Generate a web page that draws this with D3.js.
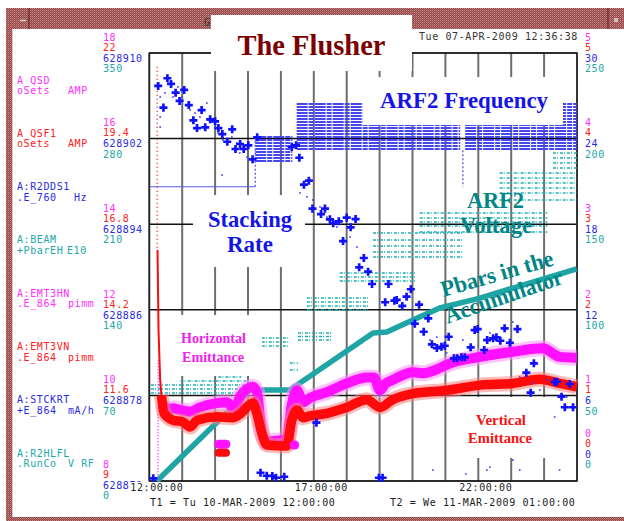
<!DOCTYPE html>
<html>
<head>
<meta charset="utf-8">
<script src="https://cdn.jsdelivr.net/npm/d3@7"></script>
<style>
  body { margin: 0; background: #fff; }
  text.mono { font-family: "DejaVu Sans Mono", monospace; font-size: 10px; letter-spacing: 0.6px; }
  text.big { font-family: "Liberation Serif", "Times New Roman", serif; font-weight: bold; }
</style>
</head>
<body>
<svg id="chart" width="624" height="521"></svg>
<script>
// time span of the plot: T1 .. T2 (13 hours), data times are hours after T1
var T1 = Date.UTC(2009, 2, 10, 12, 0, 0),
    T2 = Date.UTC(2009, 2, 11, 1, 0, 0);
function t(h) { return new Date(T1 + h * 3600e3) }

// axis labels, top to bottom
var qsdTicks   = ["18", "16", "14", "12", "10", "8"];
var qsf1Ticks  = ["22", "19.4", "16.8", "14.2", "11.6", "9"];
var freqTicks  = ["628910", "628902", "628894", "628886", "628878", "628870"];
var beamTicks  = ["350", "280", "210", "140", "70", "0"];
var emitHTicks = ["5", "4", "3", "2", "1", "0"];
var emitVTicks = ["5", "4", "3", "2", "1", "0"];
var stackTicks = ["30", "24", "18", "12", "6", "0"];
var voltTicks  = ["250", "200", "150", "100", "50", "0"];
var timeLabelHours = [0, 5, 10];

var channelNames = ["A_QSD", "A_QSF1", "A:R2DDS1", "A:BEAM", "A:EMT3HN", "A:EMT3VN", "A:STCKRT", "A:R2HLFL"];
var channelSubs  = ["oSets", "oSets", ".E_760", "+PbarEH", ".E_864", ".E_864", "+E_864", ".RunCo"];
var channelUnits = ["AMP", "AMP", "Hz", "E10", "pimm", "pimm", "mA/h", "V RF"];

// stacking rate (mA/h): [hour, value]
var stackPlus = [[0.27,27.69],[0.55,28.23],[0.66,27.83],[0.43,26.17],[0.80,27.22],[1.06,27.41],[0.92,26.64],[1.20,26.35],
  [1.59,26.00],[1.34,25.28],[1.45,24.74],[1.70,24.79],[1.85,25.35],[2.00,25.21],[2.10,24.74],[2.22,24.32],[2.52,24.65],
  [2.37,23.78],[2.62,23.27],[2.76,23.62],[2.87,23.27],[3.01,23.53],[3.14,22.55],[3.28,24.09],[4.33,23.41],[4.46,23.53],
  [4.56,22.66],[4.70,20.77],[4.85,21.05],[4.96,19.09],[5.22,18.71],[5.34,19.09],[5.49,18.34],[5.59,18.06],[5.76,18.20],
  [6.00,18.46],[6.27,18.36],[6.12,17.78],[5.89,16.82],[6.52,15.63],[6.38,14.98],[6.65,14.67],[6.77,13.81],[7.27,13.81],
  [7.17,12.53],[7.45,12.64],[7.52,12.69],[7.69,12.27],[7.82,12.92],[7.95,13.44],[8.20,12.36],[8.07,11.03],[8.34,10.46],
  [8.48,11.40],[8.59,9.58],[8.74,9.32],[8.88,9.41],[8.98,9.48],[9.10,10.11],[9.26,8.60],[9.36,8.60],[9.49,8.67],
  [9.59,8.67],[9.77,9.37],[9.89,10.58],[9.98,10.65],[10.18,9.18],[10.27,9.88],[10.45,10.00],[10.55,10.07],[10.67,9.83],
  [10.80,10.70],[10.96,9.69],[11.19,10.65],[11.46,7.59],[11.69,8.25],[11.59,6.19],[12.32,6.94],[12.39,6.96],[12.53,5.91],
  [12.78,6.80],[12.63,5.17],[12.88,5.17],[5.08,4.09],[3.38,0.58],[3.57,0.37],[3.74,0.35],[3.85,0.23],[4.10,0.30],
  [0.12,0.19],[6.98,0.23],[7.09,0.23]];
var stackDots = [[0.33,26.92],[0.48,27.20],[0.72,26.92],[0.87,27.62],[0.99,26.92],[1.24,26.00],[1.39,25.79],[1.54,25.51],
  [1.75,26.49],[1.78,25.30],[2.09,24.39],[2.24,23.90],[2.51,24.11],[2.66,23.69],[2.75,22.99],[2.97,22.71],[2.21,21.45],
  [0.33,24.81],[0.33,25.51],[4.58,20.19],[4.79,19.91],[4.97,19.70],[5.19,19.21],[5.40,18.50],[5.70,17.80],[6.10,17.10],
  [6.31,16.40],[7.62,12.20],[8.01,11.99],[8.53,9.88],[8.74,10.09],[9.04,8.97],[9.53,9.88],[9.74,9.18],[10.35,10.37],
  [10.65,9.67],[11.05,11.14],[11.26,7.29],[11.65,6.87],[11.87,6.38],[12.08,7.08],[12.17,5.47],[12.32,4.49],[12.69,5.89],
  [8.62,0.77],[10.26,0.77],[11.05,1.47],[12.47,0.77],[9.62,0.49],[10.35,0.98],[11.26,0.77]];

// ARF2 frequency (Hz)
var freqBase = [[0, 628897.5], [3.22, 628897.5]];
var freqJumps = [[3.22, 628897.5, 628902.15], [9.53, 628900.9, 628897.5]];
var freqBands = [
  {from: 3.22, to: 4.35, levels: [628902.15, 628901.87, 628901.59, 628901.31, 628901.03, 628900.75, 628900.47, 628900.19, 628899.91]},
  {from: 4.48, to: 9.45, levels: [628905.23, 628904.95, 628904.67, 628904.39, 628904.11, 628903.83, 628903.55, 628903.27,
                                  628902.99, 628902.71, 628902.43, 628902.15, 628901.87, 628901.59, 628901.31, 628901.03]},
  {from: 9.6, to: 13, levels: [628905.23, 628904.95, 628904.67, 628904.39, 628904.11, 628903.83, 628903.55, 628903.27,
                               628902.99, 628902.71, 628902.43, 628902.15, 628901.87, 628901.59, 628901.31, 628901.03]}
];

// ARF2 voltage (right teal scale)
var voltBands = [
  {from: 0.05, to: 3.05, levels: [51.4, 53.7, 56.1]},
  {from: 0.95, to: 3.1, levels: [58.4]},
  {from: 2.1, to: 2.8, levels: [60.7]},
  {from: 3.42, to: 4.27, levels: [83.5, 81.2, 78.9]},
  {from: 4.27, to: 4.52, levels: [64.8, 68.9]},
  {from: 4.52, to: 5.58, levels: [86.4, 84.4, 82.4]},
  {from: 4.79, to: 6.70, levels: [106.9, 104.6, 102.2, 99.9]},
  {from: 5.79, to: 8.13, levels: [121.5, 119.2, 116.8]},
  {from: 6.80, to: 9.53, levels: [144.9, 140.8, 137.3, 133.8, 130.8]},
  {from: 8.22, to: 12.1, levels: [156.5, 153.6, 151.3, 148.9, 145.4]},
  {from: 10.65, to: 13, levels: [179.9, 177.0, 174.1, 171.1, 168.2, 164.1]},
  {from: 12.27, to: 13, levels: [191.6, 188.7, 185.7, 182.8]}
];

// pbars in the accumulator (E10)
var pbars = [[0.23,0],[3.06,74.4],[4.27,74.4],[6.80,121.0],[7.22,121.8],[8.01,131.7],[8.83,141.5],
  [10.05,149.6],[11.05,157.8],[12.08,166.0],[12.99,173.4]];

// emittances (pi mm mrad)
var hEmit = [[0.42,0.90],[0.54,0.83],[0.72,0.85],[0.93,0.83],[1.24,0.81],[1.54,0.86],[2.05,0.91],[2.36,0.92],[2.60,0.83],
  [2.75,0.98],[3.15,1.10],[3.27,1.04],[3.42,0.57],[3.57,0.46],[3.88,0.47],[4.18,0.49],[4.33,0.89],[4.49,1.06],[4.67,0.92],
  [4.88,0.97],[5.40,1.04],[6.00,1.14],[6.61,1.21],[6.83,1.21],[7.01,1.06],[7.19,1.14],[7.40,1.18],[8.01,1.27],[8.31,1.26],
  [8.83,1.32],[9.05,1.36],[10.05,1.45],[11.05,1.51],[11.96,1.55],[12.48,1.45],[12.99,1.44]];
var vEmit = [[0.37,1.00],[0.45,0.79],[0.72,0.71],[1.02,0.69],[1.24,0.63],[1.45,0.71],[2.06,0.75],[2.54,0.74],[2.75,0.78],
  [3.15,0.91],[3.27,0.79],[3.42,0.56],[3.57,0.42],[4.18,0.41],[4.33,0.71],[4.49,0.83],[4.67,0.74],[4.88,0.76],[5.40,0.79],
  [6.00,0.86],[6.61,0.95],[7.01,0.86],[7.40,0.95],[8.01,1.02],[9.04,1.06],[9.53,1.09],[10.05,1.12],[11.05,1.14],
  [11.87,1.19],[12.48,1.14],[12.99,1.10]];
var vEmitSpike = [[0.25,2.70],[0.28,1.76],[0.33,1.18],[0.37,1.00]];
var vEmitSpikeTop = [[0.24,4.84],[0.24,2.70]];
var hEmitSpike = [[0.27,1.41],[0.26,0]];
var hEmitBlobs = [[2.11,2.33,0.43],[4.40,4.42,0.42]];
var vEmitBlobs = [[2.11,2.33,0.33]];

var plot = {left: 149.3, right: 577, top: 53, bottom: 481};
var pink = "#ff30ff", red = "#ff2020", blue = "#2a2ae6", teal = "#22a8a8";

var svg = d3.select("#chart");

var x = d3.scaleUtc().domain([new Date(T1), new Date(T2)]).range([plot.left, plot.right]);
function yScale(lo, hi) { return d3.scaleLinear().domain([lo, hi]).range([plot.bottom, plot.top]) }
var yQSD = yScale(8, 18), yQSF1 = yScale(9, 22), yFreq = yScale(628870, 628910), yBeam = yScale(0, 350);
var yEmit = yScale(0, 5), yStack = yScale(0, 30), yVolt = yScale(0, 250);

function lineOf(ys) { return d3.line().x(function(d){ return x(t(d[0])) }).y(function(d){ return ys(d[1]) }) }

// window frame
var defs = svg.append("defs");
var pat = defs.append("pattern").attr("id", "maroon").attr("width", 2).attr("height", 2).attr("patternUnits", "userSpaceOnUse");
pat.append("rect").attr("width", 2).attr("height", 2).attr("fill", "#974646");
pat.append("rect").attr("width", 1).attr("height", 1).attr("fill", "#c58a8a");
pat.append("rect").attr("x", 1).attr("y", 1).attr("width", 1).attr("height", 1).attr("fill", "#b06c6c");

svg.append("rect").attr("x", 6).attr("y", 8).attr("width", 618).attr("height", 21).attr("fill", "url(#maroon)");
svg.append("rect").attr("x", 6).attr("y", 8).attr("width", 6).attr("height", 513).attr("fill", "url(#maroon)");
svg.append("rect").attr("x", 6).attr("y", 517).attr("width", 618).attr("height", 4).attr("fill", "url(#maroon)");
svg.append("line").attr("x1", 29).attr("x2", 29).attr("y1", 8).attr("y2", 29).attr("stroke", "#5a2020");
svg.append("line").attr("x1", 20).attr("x2", 26).attr("y1", 20.5).attr("y2", 20.5).attr("stroke", "#e8d0d0").attr("stroke-width", 1.5);
svg.append("line").attr("x1", 608).attr("x2", 608).attr("y1", 8).attr("y2", 29).attr("stroke", "#5a2020");
svg.append("rect").attr("x", 614).attr("y", 18).attr("width", 4).attr("height", 4).attr("fill", "#d8b8b8");
svg.append("text").attr("class", "mono").attr("x", 204).attr("y", 26).attr("fill", "#333").text("G");
svg.append("line").attr("x1", 12.5).attr("x2", 12.5).attr("y1", 29).attr("y2", 517).attr("stroke", "#ccc");

// grid
var hourTicks = x.ticks(d3.utcHour.every(1));
svg.append("g").selectAll("line").data(hourTicks).enter().append("line")
  .attr("x1", function(d){ return x(d) }).attr("x2", function(d){ return x(d) })
  .attr("y1", plot.top).attr("y2", plot.bottom)
  .attr("stroke", "#6e6e6e").attr("stroke-width", 2);
svg.append("g").selectAll("line").data(yEmit.ticks(5)).enter().append("line")
  .attr("x1", plot.left).attr("x2", plot.right)
  .attr("y1", function(d){ return yEmit(d) }).attr("y2", function(d){ return yEmit(d) })
  .attr("stroke", "#111").attr("stroke-width", 1.5);
svg.append("rect").attr("x", plot.left).attr("y", plot.top)
  .attr("width", plot.right - plot.left).attr("height", plot.bottom - plot.top)
  .attr("fill", "none").attr("stroke", "#222").attr("stroke-width", 1.5);

// ARF2 frequency
freqBands.forEach(function(b){
  svg.append("g").selectAll("line").data(b.levels).enter().append("line")
    .attr("x1", x(t(b.from))).attr("x2", x(t(b.to)))
    .attr("y1", function(d){ return yFreq(d) }).attr("y2", function(d){ return yFreq(d) })
    .attr("stroke", "#4646ee").attr("stroke-width", 2).attr("stroke-dasharray", "11,1,5,1");
});
svg.append("path").datum(freqBase).attr("d", lineOf(yFreq))
  .attr("fill", "none").attr("stroke", "#5858f0").attr("stroke-width", 1.2);
svg.append("g").selectAll("line").data(freqJumps).enter().append("line")
  .attr("x1", function(d){ return x(t(d[0])) }).attr("x2", function(d){ return x(t(d[0])) })
  .attr("y1", function(d){ return yFreq(d[1]) }).attr("y2", function(d){ return yFreq(d[2]) })
  .attr("stroke", "#5858f0").attr("stroke-width", 1.3).attr("stroke-dasharray", "2,2");

// ARF2 voltage
voltBands.forEach(function(b){
  svg.append("g").selectAll("line").data(b.levels).enter().append("line")
    .attr("x1", x(t(b.from))).attr("x2", x(t(b.to)))
    .attr("y1", function(d){ return yVolt(d) }).attr("y2", function(d){ return yVolt(d) })
    .attr("stroke", "#1eb0b0").attr("stroke-width", 1.5).attr("stroke-dasharray", "3,1,1,2");
});

// pbars
svg.append("path").datum(pbars).attr("d", lineOf(yBeam))
  .attr("fill", "none").attr("stroke", "#1fa5a5").attr("stroke-width", 5.5).attr("stroke-linejoin", "round");

// emittances
var emitLine = lineOf(yEmit).curve(d3.curveMonotoneX);
svg.append("path").datum(hEmitSpike).attr("d", lineOf(yEmit))
  .attr("fill", "none").attr("stroke", pink).attr("stroke-width", 1.5).attr("stroke-dasharray", "1,2");
svg.append("path").datum(hEmit).attr("d", emitLine)
  .attr("fill", "none").attr("stroke", "#ff90ff").attr("stroke-width", 16).attr("stroke-linejoin", "round").attr("opacity", 0.55);
svg.append("path").datum(hEmit).attr("d", emitLine)
  .attr("fill", "none").attr("stroke", "#ff10ff").attr("stroke-width", 10).attr("stroke-linejoin", "round");
svg.append("path").datum(vEmit).attr("d", emitLine)
  .attr("fill", "none").attr("stroke", "#ff8080").attr("stroke-width", 15).attr("stroke-linejoin", "round").attr("opacity", 0.55);
svg.append("path").datum(vEmit).attr("d", emitLine)
  .attr("fill", "none").attr("stroke", "#ff0a0a").attr("stroke-width", 9.5).attr("stroke-linejoin", "round");
svg.append("path").datum(vEmitSpike).attr("d", lineOf(yEmit))
  .attr("fill", "none").attr("stroke", "#ff0a0a").attr("stroke-width", 2);
svg.append("path").datum(vEmitSpikeTop).attr("d", lineOf(yEmit))
  .attr("fill", "none").attr("stroke", red).attr("stroke-width", 1.5).attr("stroke-dasharray", "1,3");
svg.append("g").selectAll("line").data(hEmitBlobs).enter().append("line")
  .attr("x1", function(d){ return x(t(d[0])) }).attr("x2", function(d){ return x(t(d[1])) })
  .attr("y1", function(d){ return yEmit(d[2]) }).attr("y2", function(d){ return yEmit(d[2]) })
  .attr("stroke", "#ff10ff").attr("stroke-width", 9).attr("stroke-linecap", "round");
svg.append("g").selectAll("line").data(vEmitBlobs).enter().append("line")
  .attr("x1", function(d){ return x(t(d[0])) }).attr("x2", function(d){ return x(t(d[1])) })
  .attr("y1", function(d){ return yEmit(d[2]) }).attr("y2", function(d){ return yEmit(d[2]) })
  .attr("stroke", "#ff0a0a").attr("stroke-width", 8).attr("stroke-linecap", "round");

// stacking rate
svg.append("g").selectAll("rect").data(stackDots).enter().append("rect")
  .attr("x", function(d){ return x(t(d[0])) - 0.8 }).attr("y", function(d){ return yStack(d[1]) - 0.8 })
  .attr("width", 1.6).attr("height", 1.6).attr("fill", "#3a3aff");
svg.append("g").selectAll("path").data(stackPlus).enter().append("path")
  .attr("d", d3.symbol(d3.symbolCross, 36))
  .attr("transform", function(d){ return "translate(" + x(t(d[0])) + "," + yStack(d[1]) + ")" })
  .attr("fill", "#1010ff");

// left and right scale labels
var leftSets = [[qsdTicks, yQSD, pink, -15.7], [qsf1Ticks, yQSF1, red, -5.8], [freqTicks, yFreq, blue, 5.2], [beamTicks, yBeam, teal, 15.6]];
var rightSets = [[emitHTicks, yEmit, pink, -15.7], [emitVTicks, yEmit, red, -5.8], [stackTicks, yStack, blue, 5.2], [voltTicks, yVolt, teal, 15.6]];
leftSets.forEach(function(s){
  svg.append("g").selectAll("text").data(s[0]).enter().append("text")
    .attr("class", "mono").attr("x", 103)
    .attr("y", function(d){ return s[1](+d) + s[3] + (+d === s[1].domain()[0] ? -1 : 0) })
    .attr("dy", "0.35em").attr("fill", s[2]).text(function(d){ return d });
});
rightSets.forEach(function(s){
  svg.append("g").selectAll("text").data(s[0]).enter().append("text")
    .attr("class", "mono").attr("x", 585)
    .attr("y", function(d){ return s[1](+d) + s[3] + (+d === 0 ? -32 : 0) })
    .attr("dy", "0.35em").attr("fill", s[2]).text(function(d){ return d });
});

// channel names
var chColors = [pink, red, blue, teal, pink, red, blue, teal];
var unitX = [68, 68, 74, 67, 68, 68, 68, 68];
var ch = svg.append("g").selectAll("g").data(channelNames).enter().append("g");
ch.append("text").attr("class", "mono").attr("x", 17).attr("y", function(d, i){ return 80 + i * 53.3 })
  .attr("dy", "0.35em").attr("fill", function(d, i){ return chColors[i] }).text(function(d){ return d });
ch.append("text").attr("class", "mono").attr("x", 17).attr("y", function(d, i){ return 90.5 + i * 53.3 })
  .attr("dy", "0.35em").attr("fill", function(d, i){ return chColors[i] }).text(function(d, i){ return channelSubs[i] });
ch.append("text").attr("class", "mono").attr("x", function(d, i){ return unitX[i] }).attr("y", function(d, i){ return 90.5 + i * 53.3 })
  .attr("dy", "0.35em").attr("fill", function(d, i){ return chColors[i] }).text(function(d, i){ return channelUnits[i] });

// time axis (its white label background hides the end of the lowest left label, as on the screen)
var timeAxis = d3.axisBottom(x).tickValues(timeLabelHours.map(t)).tickFormat(d3.utcFormat("%H:%M:%S")).tickSize(0);
var ga = svg.append("g").attr("transform", "translate(0," + plot.bottom + ")").style("color", "#222").call(timeAxis);
ga.select(".domain").remove();
ga.selectAll(".tick").insert("rect", "text").attr("x", -19).attr("y", 1).attr("width", 53).attr("height", 11).attr("fill", "#fff");
ga.selectAll("text").attr("class", "mono").attr("dx", 7).attr("y", 6).attr("dy", "0.35em");

svg.append("text").attr("class", "mono").attr("x", 150).attr("y", 502).attr("dy", "0.35em").attr("fill", "#222")
  .text("T1 = Tu 10-MAR-2009 12:00:00");
svg.append("text").attr("class", "mono").attr("x", 390).attr("y", 502).attr("dy", "0.35em").attr("fill", "#222")
  .text("T2 = We 11-MAR-2009 01:00:00");
svg.append("text").attr("class", "mono").attr("x", 419).attr("y", 36).attr("dy", "0.35em").attr("fill", "#333")
  .text("Tue 07-APR-2009 12:36:38");

// annotation boxes
function box(x0, y0, x1, y1) {
  svg.append("rect").attr("x", x0).attr("y", y0).attr("width", x1 - x0).attr("height", y1 - y0).attr("fill", "#fff");
}
box(211, 15, 412, 71);
box(363, 77, 563, 125);
box(193, 195, 305, 267);
box(162, 315, 262, 376);
box(450, 397, 553, 458);

function bigText(txt, cx, by, size, color, len) {
  var el = svg.append("text").attr("class", "big").attr("x", cx).attr("y", by)
    .attr("text-anchor", "middle").attr("font-size", size).attr("fill", color).text(txt);
  if (len) el.attr("textLength", len).attr("lengthAdjust", "spacingAndGlyphs");
  return el;
}
bigText("The Flusher", 311.5, 55, 30, "#7c0000", 148);
bigText("ARF2 Frequency", 464, 108, 24, "#1414e8", 168);
bigText("Stacking", 250, 227, 23, "#1414e8", 84);
bigText("Rate", 250, 252, 23, "#1414e8");
bigText("ARF2", 495.5, 208, 23, "#008686", 57);
bigText("Voltage", 496, 233, 23, "#008686", 72);
bigText("Horizontal", 213.5, 343, 15, "#f020f0", 65);
bigText("Emittance", 213, 362, 15, "#f020f0", 62);
bigText("Vertical", 501, 425, 15, "#ff1010", 50);
bigText("Emittance", 500, 443, 15, "#ff1010", 64);
bigText("Pbars in the", 499, 281, 23, "#008686", 116).attr("transform", "rotate(-16,499,281)");
bigText("Accumulator", 506, 303.5, 23, "#008686", 124).attr("transform", "rotate(-19,506,303.5)");
</script>
</body>
</html>
